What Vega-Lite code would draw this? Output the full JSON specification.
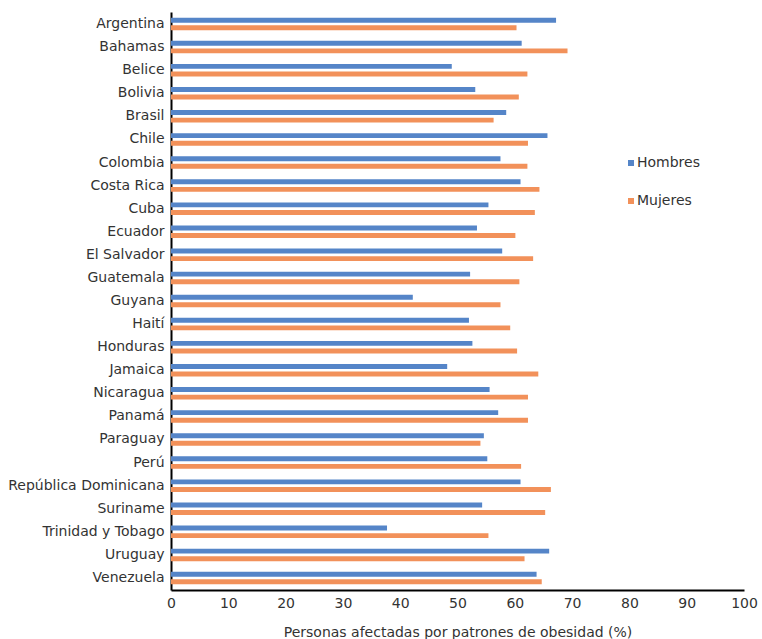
{
  "$schema": "https://vega.github.io/schema/vega-lite/v6.json",
  "width": 573,
  "height": 578,
  "autosize": {"type": "none"},
  "padding": {"left": 171, "top": 12, "right": 18, "bottom": 49},
  "background": "white",
  "config": {"view": {"stroke": null}, "font": "DejaVu Sans"},
  "data": {
    "values": [
      {"pais": "Argentina", "sexo": "Hombres", "valor": 67.2},
      {"pais": "Argentina", "sexo": "Mujeres", "valor": 60.3},
      {"pais": "Bahamas", "sexo": "Hombres", "valor": 61.2},
      {"pais": "Bahamas", "sexo": "Mujeres", "valor": 69.2},
      {"pais": "Belice", "sexo": "Hombres", "valor": 49.0},
      {"pais": "Belice", "sexo": "Mujeres", "valor": 62.2},
      {"pais": "Bolivia", "sexo": "Hombres", "valor": 53.1},
      {"pais": "Bolivia", "sexo": "Mujeres", "valor": 60.7},
      {"pais": "Brasil", "sexo": "Hombres", "valor": 58.5},
      {"pais": "Brasil", "sexo": "Mujeres", "valor": 56.3},
      {"pais": "Chile", "sexo": "Hombres", "valor": 65.7},
      {"pais": "Chile", "sexo": "Mujeres", "valor": 62.3},
      {"pais": "Colombia", "sexo": "Hombres", "valor": 57.5},
      {"pais": "Colombia", "sexo": "Mujeres", "valor": 62.2},
      {"pais": "Costa Rica", "sexo": "Hombres", "valor": 61.0},
      {"pais": "Costa Rica", "sexo": "Mujeres", "valor": 64.3},
      {"pais": "Cuba", "sexo": "Hombres", "valor": 55.4},
      {"pais": "Cuba", "sexo": "Mujeres", "valor": 63.5},
      {"pais": "Ecuador", "sexo": "Hombres", "valor": 53.4},
      {"pais": "Ecuador", "sexo": "Mujeres", "valor": 60.1},
      {"pais": "El Salvador", "sexo": "Hombres", "valor": 57.8},
      {"pais": "El Salvador", "sexo": "Mujeres", "valor": 63.2},
      {"pais": "Guatemala", "sexo": "Hombres", "valor": 52.2},
      {"pais": "Guatemala", "sexo": "Mujeres", "valor": 60.8},
      {"pais": "Guyana", "sexo": "Hombres", "valor": 42.2},
      {"pais": "Guyana", "sexo": "Mujeres", "valor": 57.5},
      {"pais": "Haití", "sexo": "Hombres", "valor": 52.0},
      {"pais": "Haití", "sexo": "Mujeres", "valor": 59.2},
      {"pais": "Honduras", "sexo": "Hombres", "valor": 52.6},
      {"pais": "Honduras", "sexo": "Mujeres", "valor": 60.4},
      {"pais": "Jamaica", "sexo": "Hombres", "valor": 48.2},
      {"pais": "Jamaica", "sexo": "Mujeres", "valor": 64.1},
      {"pais": "Nicaragua", "sexo": "Hombres", "valor": 55.6},
      {"pais": "Nicaragua", "sexo": "Mujeres", "valor": 62.3},
      {"pais": "Panamá", "sexo": "Hombres", "valor": 57.1},
      {"pais": "Panamá", "sexo": "Mujeres", "valor": 62.3},
      {"pais": "Paraguay", "sexo": "Hombres", "valor": 54.6},
      {"pais": "Paraguay", "sexo": "Mujeres", "valor": 54.0},
      {"pais": "Perú", "sexo": "Hombres", "valor": 55.2},
      {"pais": "Perú", "sexo": "Mujeres", "valor": 61.1},
      {"pais": "República Dominicana", "sexo": "Hombres", "valor": 61.0},
      {"pais": "República Dominicana", "sexo": "Mujeres", "valor": 66.3},
      {"pais": "Suriname", "sexo": "Hombres", "valor": 54.3},
      {"pais": "Suriname", "sexo": "Mujeres", "valor": 65.3},
      {"pais": "Trinidad y Tobago", "sexo": "Hombres", "valor": 37.7},
      {"pais": "Trinidad y Tobago", "sexo": "Mujeres", "valor": 55.4},
      {"pais": "Uruguay", "sexo": "Hombres", "valor": 66.0},
      {"pais": "Uruguay", "sexo": "Mujeres", "valor": 61.7},
      {"pais": "Venezuela", "sexo": "Hombres", "valor": 63.8},
      {"pais": "Venezuela", "sexo": "Mujeres", "valor": 64.7}
    ]
  },
  "mark": {"type": "bar"},
  "encoding": {
    "y": {
      "field": "pais",
      "type": "nominal",
      "sort": null,
      "scale": {"paddingInner": 0.46, "paddingOuter": 0.25},
      "axis": {
        "title": null,
        "ticks": false,
        "labelFontSize": 14,
        "labelColor": "#333333",
        "labelPadding": 7,
        "domainColor": "#000000",
        "domainWidth": 2
      }
    },
    "yOffset": {
      "field": "sexo",
      "type": "nominal",
      "scale": {"paddingInner": 0.35}
    },
    "x": {
      "field": "valor",
      "type": "quantitative",
      "scale": {"domain": [0, 100], "nice": false},
      "axis": {
        "title": "Personas afectadas por patrones de obesidad (%)",
        "titleFontSize": 14,
        "titleFontWeight": "normal",
        "titleColor": "#333333",
        "titlePadding": 15,
        "values": [0, 10, 20, 30, 40, 50, 60, 70, 80, 90, 100],
        "grid": false,
        "ticks": false,
        "labelFlush": false,
        "labelFontSize": 14,
        "labelColor": "#333333",
        "labelPadding": 6,
        "domainColor": "#000000",
        "domainWidth": 2
      }
    },
    "color": {
      "field": "sexo",
      "type": "nominal",
      "scale": {"domain": ["Hombres", "Mujeres"], "range": ["#5585C8", "#F2915A"]},
      "legend": {
        "title": null,
        "orient": "none",
        "legendX": 453,
        "legendY": 144,
        "symbolType": "square",
        "symbolSize": 36,
        "symbolOffset": 0,
        "labelOffset": -1,
        "labelFontSize": 14,
        "labelColor": "#333333",
        "rowPadding": 24
      }
    }
  }
}
